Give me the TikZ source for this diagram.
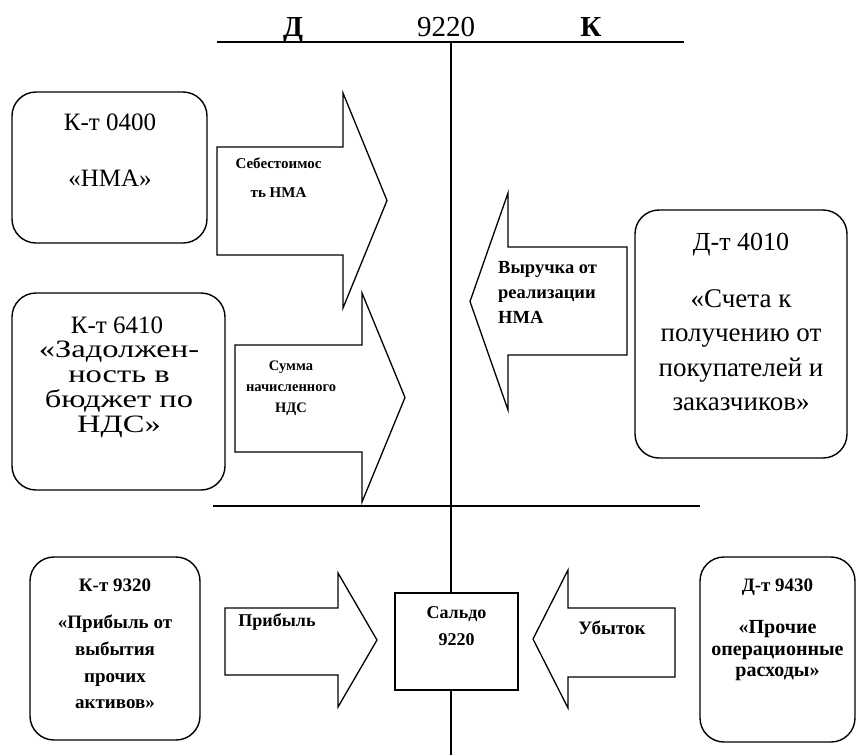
\documentclass[tikz,border=0pt]{standalone}
\usepackage{fontspec}
\setmainfont{Liberation Serif}
\newfontfamily\widefont[FakeStretch=1.3]{Liberation Serif}

\newcommand{\txtsize}[2]{\fontsize{#1}{#2}\selectfont\lineskiplimit=-100pt}

\tikzset{
  acct/.style={draw, line width=1.4pt, rounded corners=24pt, inner sep=0pt},
  saldobox/.style={draw, line width=1.4pt, fill=white, inner sep=0pt},
  blockarr/.style={draw, line width=1.3pt, fill=white, line join=miter},
  ledger/.style={line width=1.4pt},
  lbl/.style={align=center, inner sep=0pt},
}

\begin{document}
\begin{tikzpicture}[x=1pt, y=-1pt]
		\useasboundingbox (0,0) rectangle (861,755);
		% T-account
		\draw [ledger] (217,42) -- (684,42);
		\draw [ledger] (213,506) -- (700,506);
		\draw [ledger] (451,42) -- (451,755);
		\node [anchor=base, font=\bfseries\txtsize{29}{34}] (debit) at (293,36) {Д};
		\node [anchor=base, font=\txtsize{29}{34}] (acc) at (446,36) {9220};
		\node [anchor=base, font=\bfseries\txtsize{29}{34}] (credit) at (591,36) {К};

		% accounts on the left
		\node [acct, minimum width=195pt, minimum height=151pt] (kt0400) at (109.5,167.5) {};
		\node [lbl, font=\txtsize{25}{56}] (kt0400t) at (110,150) {К-т 0400\\«НМА»};
		\node [acct, minimum width=213pt, minimum height=197pt] (kt6410) at (118.5,391.5) {};
		\node [lbl, anchor=base, font=\txtsize{25}{25}] (kt6410h) at (117,333) {К-т 6410};
		\node [lbl, font=\widefont\txtsize{25}{25}] (kt6410t) at (119,389) {«Задолжен-\\ность в\\бюджет по\\НДС»};

		% account on the right
		\node [acct, minimum width=212pt, minimum height=248pt] (dt4010) at (741,334) {};
		\node [lbl, font=\txtsize{26}{30}] (dt4010h) at (741,245) {Д-т 4010};
		\node [lbl, font=\txtsize{27}{34.5}] (dt4010t) at (741,350) {«Счета к\\получению от\\покупателей и\\заказчиков»};

		% block arrows, upper part
		\draw [blockarr] (217,147) -- (343,147) -- (343,93) -- (387,200.5) -- (343,308) -- (343,255) -- (217,255) -- cycle;
		\node [lbl, font=\bfseries\txtsize{15}{29}] (cost) at (278.5,177.5) {Себестоимос\\ть НМА};
		\draw [blockarr] (235,345) -- (362,345) -- (362,293) -- (405,397.5) -- (362,502) -- (362,452) -- (235,452) -- cycle;
		\node [lbl, font=\bfseries\txtsize{14.5}{21}] (vat) at (291,388) {Сумма\\начисленного\\НДС};
		\draw [blockarr] (627,247) -- (508,247) -- (508,193) -- (470,301.5) -- (508,410) -- (508,355) -- (627,355) -- cycle;
		\node [lbl, align=left, anchor=west, font=\bfseries\txtsize{18.5}{25}] (rev) at (498,292) {Выручка от\\реализации\\НМА};

		% lower part
		\node [acct, minimum width=170pt, minimum height=183pt] (kt9320) at (115,648.5) {};
		\node [lbl, font=\bfseries\txtsize{19}{26}] (kt9320h) at (115,585) {К-т 9320};
		\node [lbl, font=\bfseries\txtsize{19}{26.7}] (kt9320t) at (115,662) {«Прибыль от\\выбытия\\прочих\\активов»};
		\node [acct, minimum width=155pt, minimum height=185pt] (dt9430) at (777.5,649.5) {};
		\node [lbl, font=\bfseries\txtsize{19}{26}] (dt9430h) at (777.5,587) {Д-т 9430};
		\node [lbl, font=\bfseries\txtsize{20}{21.5}] (dt9430t) at (777.5,651) {«Прочие\\операционные\\расходы»};
		\node [saldobox, minimum width=123pt, minimum height=97pt] (saldo) at (456.5,641.5) {};
		\node [lbl, font=\bfseries\txtsize{18}{27}] (saldot) at (456.5,626.5) {Сальдо\\9220};
		\draw [blockarr] (225,608) -- (338,608) -- (338,573) -- (377,640) -- (338,707) -- (338,675) -- (225,675) -- cycle;
		\node [lbl, font=\bfseries\txtsize{18}{22}] (profit) at (277,622) {Прибыль};
		\draw [blockarr] (675,608) -- (568,608) -- (568,570) -- (533,639) -- (568,708) -- (568,677) -- (675,677) -- cycle;
		\node [lbl, font=\bfseries\txtsize{19}{22}] (loss) at (612,628) {Убыток};
\end{tikzpicture}
\end{document}
